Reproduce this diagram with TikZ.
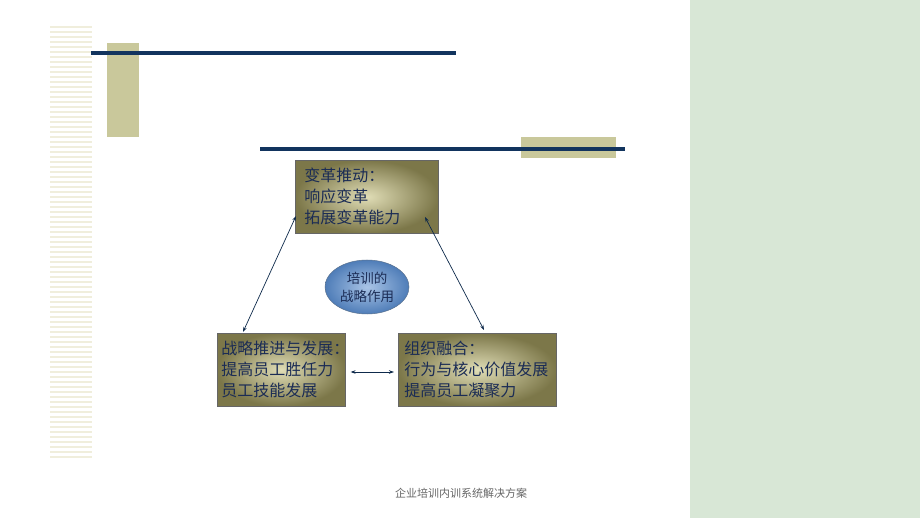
\documentclass[tikz,border=0pt]{standalone}
\usepackage{fontspec}
\newfontfamily\cjk{Noto Sans CJK SC}
\usetikzlibrary{shapes.geometric,arrows.meta}
\definecolor{navy}{HTML}{12345E}
\definecolor{khaki}{HTML}{C9C89B}
\definecolor{panel}{HTML}{D8E7D6}
\definecolor{stripe}{HTML}{F0EEDC}
\definecolor{boxdark}{HTML}{7C7749}
\definecolor{boxlight}{HTML}{E0DDB6}
\definecolor{txt}{HTML}{1B2C55}
\definecolor{ellout}{HTML}{4F7DB8}
\definecolor{ellin}{HTML}{A9C4E6}
\tikzset{
  rolebox/.style={draw=black!60, line width=0.6pt, inner color=boxlight, outer color=boxdark,
    minimum height=73pt, align=left, text=txt, font=\cjk\fontsize{16}{21}\selectfont,
    inner sep=0pt, anchor=north west},
  link/.style={draw=navy!80!black, line width=0.7pt, {Stealth[length=5pt,width=3.5pt]}-{Stealth[length=5pt,width=3.5pt]}},
}
\begin{document}
\begin{tikzpicture}[x=1pt,y=-1pt]
\useasboundingbox (0,0) rectangle (920,518);
\fill[white] (0,0) rectangle (920,518);
\fill[panel] (690,0) rectangle (920,518);
% stripes
\foreach \y in {27,32,...,460} {\draw[stripe, line width=1.6pt] (50,\y) -- (92,\y);}
% decor bars
\fill[khaki] (107,43) rectangle (139,137);
\draw[navy, line width=4.5pt] (91,53) -- (456,53);
\fill[khaki] (521,137) rectangle (616,158);
\draw[navy, line width=4pt] (260,149) -- (625,149);
% boxes
\node[rolebox, minimum width=143pt, text width=137pt] (top) at (295,160)
  {\hspace*{6pt}变革推动：\\\hspace*{6pt}响应变革\\\hspace*{6pt}拓展变革能力};
\node[rolebox, minimum width=128pt, text width=126pt] (bl) at (217,333)
  {\hspace*{3pt}战略推进与发展：\\\hspace*{3pt}提高员工胜任力\\\hspace*{3pt}员工技能发展};
\node[rolebox, minimum width=158pt, text width=156pt] (br) at (398,333)
  {\hspace*{5pt}组织融合：\\\hspace*{5pt}行为与核心价值发展\\\hspace*{5pt}提高员工凝聚力};
% ellipse
\node[ellipse, draw=navy!70, line width=0.5pt, inner color=ellin, outer color=ellout,
  minimum width=84pt, minimum height=54pt, inner sep=0pt, align=center, text=txt,
  font=\cjk\fontsize{13.5}{18}\selectfont] (ell) at (367,287) {培训的\\战略作用};
% connectors
\coordinate (a1) at (296,216);
\coordinate (a2) at (243,332);
\coordinate (b1) at (425,217);
\coordinate (b2) at (484,330);
\draw[link] (a2) -- (a1);
\draw[link] (b1) -- (b2);
\draw[link] ([xshift=5pt]bl.east |- 0,372) -- ([xshift=-4pt]br.west |- 0,372);
% footer
\node[font=\cjk\fontsize{11}{13}\selectfont, text=black!60] (foot) at (461,493) {企业培训内训系统解决方案};
\end{tikzpicture}
\end{document}
